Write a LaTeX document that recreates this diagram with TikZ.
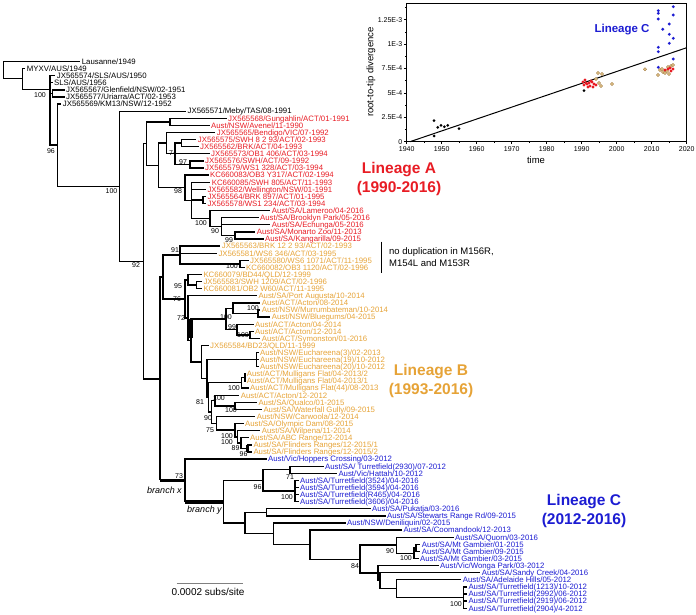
\documentclass[tikz,border=0pt]{standalone}
\usepackage{fontspec}
\setmainfont{Liberation Sans}
\usetikzlibrary{calc}
\definecolor{linA}{RGB}{232,28,36}
\definecolor{linB}{RGB}{230,163,55}
\definecolor{linC}{RGB}{28,28,210}
\definecolor{tanF}{RGB}{226,196,140}
\definecolor{tanE}{RGB}{160,120,60}
\newcommand{\Y}[1]{61.5+7.1*(#1-1)}
\newcommand{\lf}[5]{\node[leaf,text=#4] (#1) at ({#3-1.5},{\Y{#2}}) {#5};}
\newcommand{\nd}[3]{\coordinate (#1) at (#2,{\Y{#3}});}
\newcommand{\ed}[2]{\draw[br] (#1) |- (#2);}
\newcommand{\el}[2]{\draw[br] (#1) |- (#2.west);}
\newcommand{\bs}[4]{\node[boot] (#1) at (#2,#3) {#4};}
\begin{document}
\begin{tikzpicture}[x=1pt,y=-1pt,
  leaf/.style={anchor=west,inner xsep=1.5pt,inner ysep=0pt,font=\fontsize{7.8}{8}\selectfont,text height=5.6pt,text depth=0pt},
  br/.style={line width=1.35pt},
  thk/.style={line width=3.6pt},
  boot/.style={inner sep=0pt,font=\fontsize{7}{7}\selectfont},
  lin/.style={font=\fontsize{15.5}{18.3}\selectfont\bfseries,align=center},
  tick/.style={inner sep=0pt,font=\fontsize{7}{7}\selectfont}]
\useasboundingbox (0,0) rectangle (696,615);
% ---------------- leaves
\lf{L1}{1}{81.7}{black}{Lausanne/1949}
\lf{L2}{2}{26.7}{black}{MYXV/AUS/1949}
\lf{L3}{3}{56.7}{black}{JX565574/SLS/AUS/1950}
\lf{L4}{4}{54}{black}{SLS/AUS/1956}
\lf{L5}{5}{66}{black}{JX565567/Glenfield/NSW/02-1951}
\lf{L6}{6}{66}{black}{JX565577/Uriarra/ACT/02-1953}
\lf{L7}{7}{62.7}{black}{JX565569/KM13/NSW/12-1952}
\lf{L8}{8}{187.5}{black}{JX565571/Meby/TAS/08-1991}
\lf{L9}{9}{228}{linA}{JX565568/Gungahlin/ACT/01-1991}
\lf{L10}{10}{211}{linA}{Aust/NSW/Avenel/11-1990}
\lf{L11}{11}{216.7}{linA}{JX565565/Bendigo/VIC/07-1992}
\lf{L12}{12}{197.7}{linA}{JX565575/SWH 8 2 93/ACT/02-1993}
\lf{L13}{13}{200}{linA}{JX565562/BRK/ACT/04-1993}
\lf{L14}{14}{211}{linA}{JX565573/OB1 406/ACT/03-1994}
\lf{L15}{15}{205}{linA}{JX565576/SWH/ACT/09-1992}
\lf{L16}{16}{205}{linA}{JX565579/WS1 328/ACT/03-1994}
\lf{L17}{17}{210}{linA}{KC660083/OB3 Y317/ACT/02-1994}
\lf{L18}{18}{211.7}{linA}{KC660085/SWH 805/ACT/11-1993}
\lf{L19}{19}{207.3}{linA}{JX565582/Wellington/NSW/01-1991}
\lf{L20}{20}{207.3}{linA}{JX565564/BRK 897/ACT/01-1995}
\lf{L21}{21}{207.3}{linA}{JX565578/WS1 234/ACT/03-1994}
\lf{L22}{22}{271.7}{linA}{Aust/SA/Lameroo/04-2016}
\lf{L23}{23}{260}{linA}{Aust/SA/Brooklyn Park/05-2016}
\lf{L24}{24}{271.7}{linA}{Aust/SA/Echunga/05-2016}
\lf{L25}{25}{256.7}{linA}{Aust/SA/Monarto Zoo/11-2013}
\lf{L26}{26}{265}{linA}{Aust/SA/Kangarilla/09-2015}
\lf{L27}{27}{221.7}{linB}{JX565563/BRK 12 2 93/ACT/02-1993}
\lf{L28}{28}{218.3}{linB}{JX565581/WS6 346/ACT/03-1995}
\lf{L29}{29}{250}{linB}{JX565580/WS6 1071/ACT/11-1995}
\lf{L30}{30}{246}{linB}{KC660082/OB3 1120/ACT/02-1996}
\lf{L31}{31}{203.3}{linB}{KC660079/BD44/QLD/12-1999}
\lf{L32}{32}{203.3}{linB}{JX565583/SWH 1209/ACT/02-1996}
\lf{L33}{33}{203.3}{linB}{KC660081/OB2 W60/ACT/11-1995}
\lf{L34}{34}{258.3}{linB}{Aust/SA/Port Augusta/10-2014}
\lf{L35}{35}{261.7}{linB}{Aust/ACT/Acton/08-2014}
\lf{L36}{36}{261.7}{linB}{Aust/NSW/Murrumbateman/10-2014}
\lf{L37}{37}{271.7}{linB}{Aust/NSW/Bluegums/04-2015}
\lf{L38}{38}{255}{linB}{Aust/ACT/Acton/04-2014}
\lf{L39}{39}{255}{linB}{Aust/ACT/Acton/12-2014}
\lf{L40}{40}{261.7}{linB}{Aust/ACT/Symonston/01-2016}
\lf{L41}{41}{210}{linB}{JX565584/BD23/QLD/11-1999}
\lf{L42}{42}{260}{linB}{Aust/NSW/Euchareena(3)/02-2013}
\lf{L43}{43}{260}{linB}{Aust/NSW/Euchareena(19)/10-2012}
\lf{L44}{44}{260}{linB}{Aust/NSW/Euchareena(20)/10-2012}
\lf{L45}{45}{246.7}{linB}{Aust/ACT/Mulligans Flat/04-2013/2}
\lf{L46}{46}{246.7}{linB}{Aust/ACT/Mulligans Flat/04-2013/1}
\lf{L47}{47}{250}{linB}{Aust/ACT/Mulligans Flat(44)/08-2013}
\lf{L48}{48}{240.7}{linB}{Aust/ACT/Acton/12-2012}
\lf{L49}{49}{258.3}{linB}{Aust/SA/Qualco/01-2015}
\lf{L50}{50}{263.3}{linB}{Aust/SA/Waterfall Gully/09-2015}
\lf{L51}{51}{256.7}{linB}{Aust/NSW/Carwoola/12-2014}
\lf{L52}{52}{245}{linB}{Aust/SA/Olympic Dam/08-2015}
\lf{L53}{53}{261.7}{linB}{Aust/SA/Wilpena/11-2014}
\lf{L54}{54}{250}{linB}{Aust/SA/ABC Range/12-2014}
\lf{L55}{55}{253.3}{linB}{Aust/SA/Flinders Ranges/12-2015/1}
\lf{L56}{56}{253.3}{linB}{Aust/SA/Flinders Ranges/12-2015/2}
\lf{L57}{57}{268}{linC}{Aust/Vic/Hoppers Crossing/03-2012}
\lf{L58}{58}{325}{linC}{Aust/SA/ Turretfield(2930)/07-2012}
\lf{L59}{59}{338.3}{linC}{Aust/Vic/Hattah/10-2012}
\lf{L60}{60}{300}{linC}{Aust/SA/Turretfield(3524)/04-2016}
\lf{L61}{61}{300}{linC}{Aust/SA/Turretfield(3594)/04-2016}
\lf{L62}{62}{300}{linC}{Aust/SA/Turretfield(R465)/04-2016}
\lf{L63}{63}{300}{linC}{Aust/SA/Turretfield(3606)/04-2016}
\lf{L64}{64}{372}{linC}{Aust/SA/Pukatja/03-2016}
\lf{L65}{65}{387}{linC}{Aust/SA/Stewarts Range Rd/09-2015}
\lf{L66}{66}{347}{linC}{Aust/NSW/Deniliquin/02-2015}
\lf{L67}{67}{403.3}{linC}{Aust/SA/Coomandook/12-2013}
\lf{L68}{68}{455}{linC}{Aust/SA/Quorn/03-2016}
\lf{L69}{69}{421.7}{linC}{Aust/SA/Mt Gambier/01-2015}
\lf{L70}{70}{421.7}{linC}{Aust/SA/Mt Gambier/09-2015}
\lf{L71}{71}{420}{linC}{Aust/SA/Mt Gambier/03-2015}
\lf{L72}{72}{440}{linC}{Aust/Vic/Wonga Park/03-2012}
\lf{L73}{73}{481.7}{linC}{Aust/SA/Sandy Creek/04-2016}
\lf{L74}{74}{462.7}{linC}{Aust/SA/Adelaide Hills/05-2012}
\lf{L75}{75}{468.3}{linC}{Aust/SA/Turretfield(1213)/10-2012}
\lf{L76}{76}{468.3}{linC}{Aust/SA/Turretfield(2992)/06-2012}
\lf{L77}{77}{468.3}{linC}{Aust/SA/Turretfield(2919)/06-2012}
\lf{L78}{78}{468.3}{linC}{Aust/SA/Turretfield(2904)/4-2012}
% ---------------- internal nodes
\nd{root}{3.3}{2.2}
\nd{n1}{22.7}{3.37}
\nd{n2}{50}{4.92}
\nd{nGU}{52.5}{5.5}
\nd{nK}{57.3}{12.78}
\nd{n119}{119.3}{18.57}
\nd{nAll}{143.3}{29.14}
\nd{nA}{146.7}{12.57}
\nd{a1}{170}{9.5}
\nd{a2p}{158.3}{15.64}
\nd{a2}{166.7}{12.5}
\nd{a3}{175}{14}
\nd{a4}{181.7}{12.5}
\nd{a5}{190}{15.5}
\nd{a6}{185}{18.78}
\nd{a7}{191.7}{20.55}
\nd{a8}{203}{20.5}
\nd{a9}{210}{23.1}
\nd{a10}{221.7}{24.25}
\nd{a11}{235}{25.5}
\nd{nBC}{160}{45.7}
\nd{b0}{163}{31.35}
\nd{b1}{180}{28.25}
\nd{b2}{240}{29.5}
\nd{b5}{185}{34.45}
\nd{b3}{188}{31.75}
\nd{b4}{196.7}{32.5}
\nd{b6}{188}{37.15}
\nd{b8}{191}{40.3}
\nd{b12}{226}{37.25}
\nd{b10}{233}{35.75}
\nd{b11}{258}{36.5}
\nd{b13}{237}{38.75}
\nd{b14}{250}{39.5}
\nd{b9}{201.7}{43.3}
\nd{b28}{207}{45.65}
\nd{b29}{256.7}{43}
\nd{b21}{208.5}{48.3}
\nd{b16}{241.7}{46.25}
\nd{b17}{245}{45.5}
\nd{b22}{211.7}{50.35}
\nd{b18}{215}{48.75}
\nd{b19}{235}{49.5}
\nd{b23}{216.7}{51.95}
\nd{b24}{235}{52.9}
\nd{b25}{237.5}{53.9}
\nd{b26}{241}{54.75}
\nd{b27}{247.5}{55.5}
\nd{c0}{185}{60}
\nd{c1}{223.3}{63}
\nd{c2}{263}{60}
\nd{c3}{290}{58.5}
\nd{c4}{295}{61.5}
\nd{c5}{245}{66}
\nd{c6}{266.7}{64.5}
\nd{c7}{273.3}{67.5}
\nd{c8}{310}{69.05}
\nd{c9}{360}{71.1}
\nd{c10}{396.7}{69.1}
\nd{c13}{414}{70.25}
\nd{c14}{416}{69.5}
\nd{c11}{378}{73.05}
\nd{c15}{380}{74.1}
\nd{c16}{396.7}{75.25}
\nd{c17}{463.3}{76.5}
% ---------------- edges
\el{root}{L1} \ed{root}{n1}
\el{n1}{L2} \ed{n1}{n2}
\el{n2}{L3} \el{n2}{L4} \ed{n2}{nGU} \ed{n2}{nK}
\el{nGU}{L5} \el{nGU}{L6}
\el{nK}{L7} \ed{nK}{n119}
\el{n119}{L8} \ed{n119}{nAll}
\ed{nAll}{nA} \ed{nAll}{nBC}
\ed{nA}{a1} \ed{nA}{a2p}
\ed{a2p}{a2} \ed{a2p}{a6}
\el{a1}{L9} \el{a1}{L10}
\el{a2}{L11} \ed{a2}{a3}
\ed{a3}{a4} \el{a3}{L14} \ed{a3}{a5}
\el{a4}{L12} \el{a4}{L13}
\el{a5}{L15} \el{a5}{L16}
\el{a6}{L17} \ed{a6}{a7}
\el{a7}{L18} \el{a7}{L19} \ed{a7}{a8} \ed{a7}{a9}
\el{a8}{L20} \el{a8}{L21}
\el{a9}{L22} \ed{a9}{a10}
\el{a10}{L23} \el{a10}{L24} \ed{a10}{a11}
\el{a11}{L25} \el{a11}{L26}
\ed{nBC}{b0}
\draw[br] (nBC) -- (nBC |- c0); \draw[thk] (nBC |- c0) -- (c0);
\ed{b0}{b1} \ed{b0}{b5}
\el{b1}{L27} \el{b1}{L28} \ed{b1}{b2}
\el{b2}{L29} \el{b2}{L30}
\ed{b5}{b3} \ed{b5}{b6}
\el{b3}{L31} \ed{b3}{b4}
\el{b4}{L32} \el{b4}{L33}
\el{b6}{L34} \ed{b6}{b8}
\ed{b8}{b12} \ed{b8}{b9}
\draw[thk] ($(b8)+(0,-3)$) -- (b8 |- b12);
\ed{b12}{b10} \ed{b12}{b13}
\el{b10}{L35} \ed{b10}{b11}
\el{b11}{L36} \el{b11}{L37}
\el{b13}{L38} \ed{b13}{b14}
\el{b14}{L39} \el{b14}{L40}
\el{b9}{L41} \ed{b9}{b28}
\ed{b28}{b29} \ed{b28}{b21}
\el{b29}{L42} \el{b29}{L43} \el{b29}{L44}
\ed{b21}{b16} \ed{b21}{b22}
\ed{b16}{b17} \el{b16}{L47}
\el{b17}{L45} \el{b17}{L46}
\ed{b22}{b18} \ed{b22}{b23}
\el{b18}{L48} \ed{b18}{b19}
\el{b19}{L49} \el{b19}{L50}
\el{b23}{L51} \ed{b23}{b24}
\el{b24}{L52} \ed{b24}{b25}
\el{b25}{L53} \ed{b25}{b26}
\el{b26}{L54} \ed{b26}{b27}
\el{b27}{L55} \el{b27}{L56}
\draw[line width=2.6pt] (b27 |- L55) -- (b27 |- L56);
\el{c0}{L57}
\draw[br] (c0) -- (c0 |- c1); \draw[thk] (c0 |- c1) -- (c1);
\ed{c1}{c2} \ed{c1}{c5}
\ed{c2}{c3} \ed{c2}{c4}
\el{c3}{L58} \el{c3}{L59}
\el{c4}{L60} \el{c4}{L61} \el{c4}{L62} \el{c4}{L63}
\ed{c5}{c6} \ed{c5}{c7}
\el{c6}{L64} \el{c6}{L65}
\el{c7}{L66} \ed{c7}{c8}
\el{c8}{L67} \ed{c8}{c9}
\ed{c9}{c10} \ed{c9}{c11}
\el{c10}{L68} \ed{c10}{c13}
\ed{c13}{c14} \el{c13}{L71}
\el{c14}{L69} \el{c14}{L70}
\el{c11}{L72} \ed{c11}{c15}
\el{c15}{L73} \ed{c15}{c16}
\el{c16}{L74} \ed{c16}{c17}
\el{c17}{L75} \el{c17}{L76} \el{c17}{L77} \el{c17}{L78}
% ---------------- bootstrap values
\bs{s1}{40}{95}{100}
\bs{s2}{51}{151}{96}
\bs{s37}{111.5}{191}{100}
\bs{s3}{173}{153}{74}
\bs{s4}{183}{162}{97}
\bs{s5}{178}{191}{98}
\bs{s6}{201}{223}{100}
\bs{s7}{215}{231}{90}
\bs{s8}{229}{240}{99}
\bs{s9}{136}{265}{92}
\bs{s10}{175}{250}{91}
\bs{s11}{232}{266.5}{100}
\bs{s12}{178}{286}{95}
\bs{s13}{177}{299}{76}
\bs{s14}{181}{318}{72}
\bs{s15}{253}{308}{100}
\bs{s16}{226}{317}{100}
\bs{s17}{232}{327}{99}
\bs{s18}{243}{335}{100}
\bs{s19}{234}{388}{100}
\bs{s20}{200}{401.7}{81}
\bs{s21}{219}{397.7}{100}
\bs{s22}{231}{410}{100}
\bs{s23}{208}{417.7}{90}
\bs{s24}{210}{430}{75}
\bs{s25}{227}{435.7}{100}
\bs{s26}{227}{441.7}{100}
\bs{s27}{235.5}{447.7}{89}
\bs{s28}{243.5}{454.5}{96}
\bs{s29}{179}{476}{73}
\bs{s30}{290}{476.7}{71}
\bs{s31}{257.5}{487}{96}
\bs{s32}{287}{496.7}{100}
\bs{s33}{355}{565.7}{84}
\bs{s34}{390}{551}{90}
\bs{s35}{406}{558.3}{100}
\bs{s36}{456}{604}{100}
\node[font=\fontsize{9}{9}\selectfont\itshape,inner sep=0pt] (bx) at (164.5,490) {branch x};
\node[font=\fontsize{9}{9}\selectfont\itshape,inner sep=0pt] (by) at (204.5,510) {branch y};
% ---------------- lineage labels
\node[lin,text=linA] (labA) at (399,179) {Lineage A\\(1990-2016)};
\node[lin,text=linB] (labB) at (431,381) {Lineage B\\(1993-2016)};
\node[lin,text=linC] (labC) at (584,511) {Lineage C\\(2012-2016)};
% bracket
\draw[line width=1.3pt] (381.7,241.7) -- (381.7,273.3);
\node[anchor=west,align=left,inner sep=0pt,font=\fontsize{9.5}{12}\selectfont] (nodup) at (389,256.7) {no duplication in M156R,\\M154L and M153R};
% scale bar
\draw[gray,line width=1pt] (176.7,583.3) -- (243.3,583.3);
\node[font=\fontsize{10}{10}\selectfont,inner sep=0pt] (sc) at (208,592) {0.0002 subs/site};
% ---------------- inset
\draw[line width=0.8pt] (406.7,3.3) rectangle (686.7,141.7);
\foreach \yr in {1940,1950,...,2020}{
  \draw[line width=0.6pt] ({406.7+3.5*(\yr-1940)},141.7) -- ({406.7+3.5*(\yr-1940)},144.5);
  \node[tick,anchor=north] at ({406.7+3.5*(\yr-1940)},146) {\yr};}
\foreach \yr in {1945,1955,...,2015}{
  \draw[line width=0.5pt] ({406.7+3.5*(\yr-1940)},141.7) -- ({406.7+3.5*(\yr-1940)},143.2);}
\foreach \k/\t in {0/0,1/2.5E-4,2/5E-4,3/7.5E-4,4/1E-3,5/1.25E-3}{
  \draw[line width=0.6pt] (403.9,{141.7-24.4*\k}) -- (406.7,{141.7-24.4*\k});
  \node[tick,anchor=east] at (402.5,{141.7-24.4*\k}) {\t};}
\foreach \k in {0.5,1.5,...,5.5}{
  \draw[line width=0.5pt] (405.2,{141.7-24.4*\k}) -- (406.7,{141.7-24.4*\k});}
\node[font=\fontsize{9.5}{9.5}\selectfont,inner sep=0pt] (tm) at (536,160) {time};
\node[font=\fontsize{9.5}{9.5}\selectfont,inner sep=0pt,rotate=90] (rtd) at (371,72) {root-to-tip divergence};
\draw[line width=1pt] (410,141.7) -- (686.7,47.7);
\foreach \p in {(434,120.7),(434,136),(437.7,127.3),(441,125.3),(444.3,126.7),(447.7,125.3),(459,128.7),(584,90.7)}
  \fill[black] \p circle (1.5pt);
\foreach \p in {(598,73),(602,74),(596,79),(601,86),(612,84),(599,83),(645,69.3),(658,75),(660,70),(663,72),(665,73),(667,71),(669,74),(671,66),(673,65),(662,69),(668,67)}
  \filldraw[fill=tanF,draw=tanE,line width=0.4pt] \p circle (1.6pt);
\foreach \p in {(583,82),(585,80),(587,84),(589,83),(590,86),(592,82),(594,84),(596,85),(588,87),(584,85),(591,81),(593,87),(586,83),(665,70),(668,69),(670,68),(671,71),(673,69)}
  \fill[linA] \p circle (1.6pt);
\foreach \p in {(658.3,10.7),(658.3,13.3),(658.3,19),(658.3,47.3),(658.3,51.7),(658.3,67.3),(662.7,29.3),(669.3,24),(669.3,34.3),(669.3,43.3),(673.3,6.7),(673.3,15),(673.3,38.3),(673.3,59)}
  \fill[linC] \p circle (1.6pt);
\node[font=\fontsize{11.5}{11.5}\selectfont\bfseries,text=linC,inner sep=0pt] (insC) at (622,30) {Lineage C};
\end{tikzpicture}
\end{document}
